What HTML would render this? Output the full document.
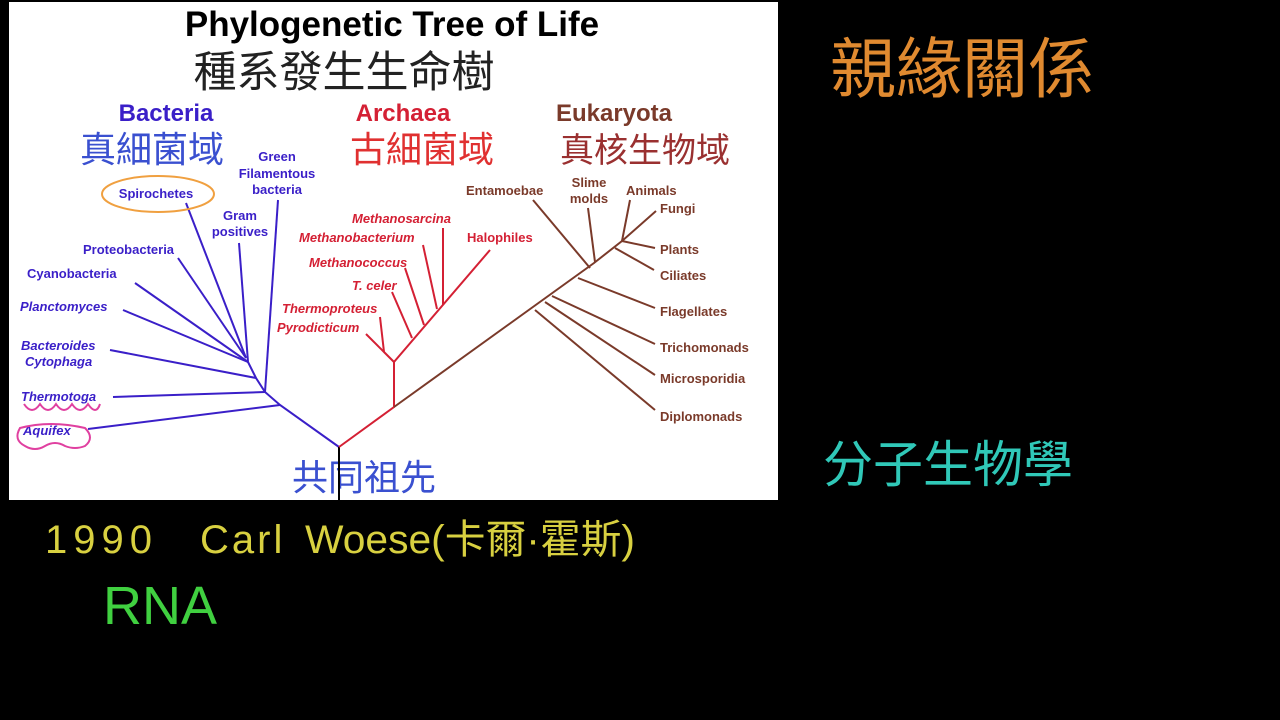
<!DOCTYPE html>
<html><head><meta charset="utf-8"><style>
html,body{margin:0;padding:0;background:#000;width:1280px;height:720px;overflow:hidden}
svg{display:block}
.b{fill:#3a1fc8;font-family:"Liberation Sans",sans-serif;font-weight:bold;font-size:13px}
.a{fill:#d42034;font-family:"Liberation Sans",sans-serif;font-weight:bold;font-size:13px;font-style:italic}
.e{fill:#7a3a2a;font-family:"Liberation Sans",sans-serif;font-weight:bold;font-size:13px}
.i{font-style:italic}
.n{font-style:normal}
.hw{font-family:"Liberation Sans","WenQuanYi Zen Hei",sans-serif}
</style></head><body>
<svg width="1280" height="720" viewBox="0 0 1280 720">
<rect x="9" y="2" width="769" height="498" fill="#fff"/>
<text x="392" y="36" text-anchor="middle" font-family="Liberation Sans,sans-serif" font-weight="bold" font-size="35">Phylogenetic Tree of Life</text>
<text x="344" y="87" text-anchor="middle" class="hw" font-size="43" fill="#222">種系發生生命樹</text>
<text x="166" y="121" text-anchor="middle" font-family="Liberation Sans,sans-serif" font-weight="bold" font-size="24" fill="#3a1fc8">Bacteria</text>
<text x="403" y="121" text-anchor="middle" font-family="Liberation Sans,sans-serif" font-weight="bold" font-size="24" fill="#d42034">Archaea</text>
<text x="614" y="121" text-anchor="middle" font-family="Liberation Sans,sans-serif" font-weight="bold" font-size="24" fill="#7a3a2a">Eukaryota</text>
<text x="152" y="162" text-anchor="middle" class="hw" font-size="36" fill="#3a50d0">真細菌域</text>
<text x="422" y="162" text-anchor="middle" class="hw" font-size="36" fill="#e03030">古細菌域</text>
<text x="645" y="162" text-anchor="middle" class="hw" font-size="34" fill="#9a3030">真核生物域</text>
<text x="364" y="490" text-anchor="middle" class="hw" font-size="36" fill="#3a50d0">共同祖先</text>
<g stroke="#3a1fc8" stroke-width="2" fill="none">
<polyline points="339,447 280,405 265,392 256,378 248,362"/>
<line x1="88" y1="429" x2="280" y2="405"/><line x1="113" y1="397" x2="265" y2="392"/>
<line x1="278" y1="200" x2="265" y2="392"/><line x1="110" y1="350" x2="256" y2="378"/>
<line x1="123" y1="310" x2="248" y2="362"/><line x1="135" y1="283" x2="248" y2="362"/>
<line x1="178" y1="258" x2="246" y2="358"/><line x1="186" y1="203" x2="246" y2="358"/>
<line x1="239" y1="243" x2="248" y2="362"/>
</g>
<line x1="339" y1="447" x2="339" y2="500" stroke="#000" stroke-width="2"/>
<g stroke="#d42034" stroke-width="2" fill="none">
<polyline points="339,447 394,407 394,362 490,250"/>
<polyline points="366,334 384,352 394,362"/><line x1="380" y1="317" x2="384" y2="352"/>
<line x1="392" y1="292" x2="412" y2="338"/><line x1="405" y1="268" x2="424" y2="325"/>
<line x1="423" y1="245" x2="437" y2="309"/><line x1="443" y1="228" x2="443" y2="305"/>
</g>
<g stroke="#7a3a2a" stroke-width="2" fill="none">
<polyline points="394,407 594,263 622,241 656,211"/>
<line x1="533" y1="200" x2="590" y2="268"/><line x1="588" y1="208" x2="595" y2="262"/>
<line x1="630" y1="200" x2="622" y2="241"/><line x1="655" y1="248" x2="622" y2="241"/>
<line x1="654" y1="270" x2="615" y2="248"/><line x1="655" y1="308" x2="578" y2="278"/>
<line x1="655" y1="344" x2="552" y2="296"/><line x1="655" y1="375" x2="545" y2="302"/>
<line x1="655" y1="410" x2="535" y2="310"/>
</g>
<text class="b" x="277" y="161" text-anchor="middle">Green</text>
<text class="b" x="277" y="178" text-anchor="middle">Filamentous</text>
<text class="b" x="277" y="194" text-anchor="middle">bacteria</text>
<text class="b" x="156" y="198" text-anchor="middle">Spirochetes</text>
<ellipse cx="158" cy="194" rx="56" ry="18" fill="none" stroke="#f0a040" stroke-width="2"/>
<text class="b" x="240" y="220" text-anchor="middle">Gram</text>
<text class="b" x="240" y="236" text-anchor="middle">positives</text>
<text class="b" x="83" y="254">Proteobacteria</text>
<text class="b" x="27" y="278">Cyanobacteria</text>
<text class="b i" x="20" y="311">Planctomyces</text>
<text class="b i" x="21" y="350">Bacteroides</text>
<text class="b i" x="25" y="366">Cytophaga</text>
<text class="b i" x="21" y="401">Thermotoga</text>
<path d="M24,404 q8,12 16,0 q8,12 16,0 q8,12 16,0 q8,12 16,0 q8,12 12,0" fill="none" stroke="#e040a0" stroke-width="2"/>
<text class="b i" x="23" y="435">Aquifex</text>
<path d="M20,428 q30,-8 65,0 q10,10 0,18 q-10,4 -20,0 q-10,-6 -20,0 q-10,6 -20,0 q-12,-6 -5,-18z" fill="none" stroke="#e040a0" stroke-width="2"/>
<text class="a" x="352" y="223">Methanosarcina</text>
<text class="a" x="299" y="242">Methanobacterium</text>
<text class="a" x="309" y="267">Methanococcus</text>
<text class="a" x="352" y="290">T. celer</text>
<text class="a" x="282" y="313">Thermoproteus</text>
<text class="a" x="277" y="332">Pyrodicticum</text>
<text class="a n" x="467" y="242">Halophiles</text>
<text class="e" x="466" y="195">Entamoebae</text>
<text class="e" x="589" y="187" text-anchor="middle">Slime</text>
<text class="e" x="589" y="203" text-anchor="middle">molds</text>
<text class="e" x="626" y="195">Animals</text>
<text class="e" x="660" y="213">Fungi</text>
<text class="e" x="660" y="254">Plants</text>
<text class="e" x="660" y="280">Ciliates</text>
<text class="e" x="660" y="316">Flagellates</text>
<text class="e" x="660" y="352">Trichomonads</text>
<text class="e" x="660" y="383">Microsporidia</text>
<text class="e" x="660" y="421">Diplomonads</text>
<text x="830" y="92" class="hw" font-size="66" fill="#e08a30">親緣關係</text>
<text x="823" y="482" class="hw" font-size="50" fill="#30c8b8">分子生物學</text>
<g class="hw" font-size="40" fill="#d8d040">
<text x="45" y="553" letter-spacing="6">1990</text>
<text x="200" y="553" letter-spacing="3">Carl</text>
<text x="305" y="553" textLength="330" lengthAdjust="spacingAndGlyphs">Woese(卡爾·霍斯)</text>
</g>
<text x="103" y="624" class="hw" font-size="54" fill="#40d040">RNA</text>
</svg>
</body></html>
